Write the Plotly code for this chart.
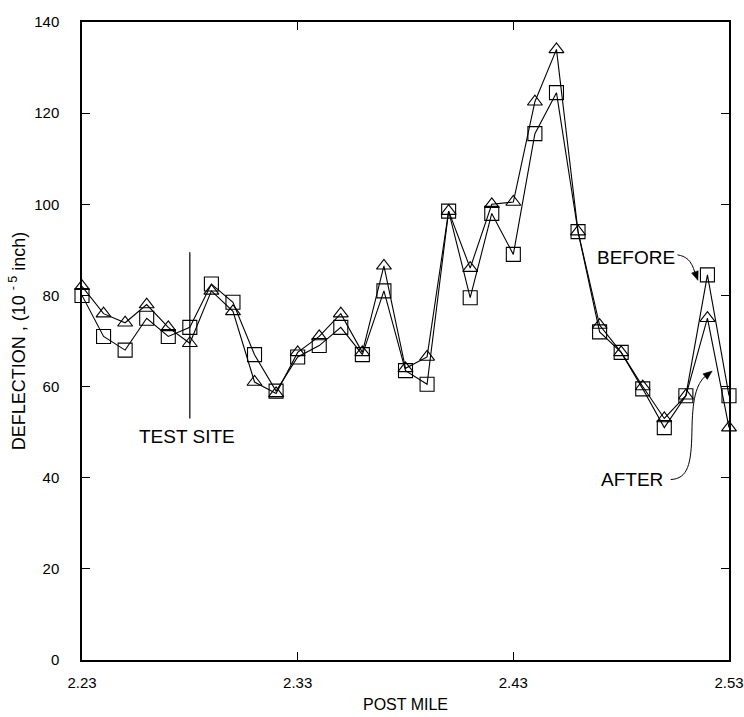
import math
import plotly.graph_objects as go

post_mile = [2.23, 2.24, 2.25, 2.26, 2.27, 2.28, 2.29, 2.30, 2.31, 2.32, 2.33,
             2.34, 2.35, 2.36, 2.37, 2.38, 2.39, 2.40, 2.41, 2.42, 2.43,
             2.44, 2.45, 2.46, 2.47, 2.48, 2.49, 2.50, 2.51, 2.52, 2.53]
before = [80, 71, 68, 75, 71, 73, 82.5, 78.5, 67, 59, 66.5,
          69, 73, 67, 81, 63.5, 60.5, 98.5, 79.5, 98, 89,
          115.5, 124.5, 94, 72, 67.5, 59.5, 51, 58, 84.5, 58]
after = [82, 76, 74, 78, 73, 69.5, 81, 76.5, 61, 58.5, 67.5,
         71, 76, 67.5, 86.5, 64, 66.5, 98.5, 86, 100, 100.5,
         122.5, 134, 94, 73.5, 67.5, 60, 53, 58, 75, 51]
x_ticks = [2.23, 2.33, 2.43, 2.53]
x_tick_text = ["2.23", "2.33", "2.43", "2.53"]
y_ticks = [0, 20, 40, 60, 80, 100, 120, 140]

FONT = "Liberation Sans, Arial, sans-serif"
X_RANGE = [2.23, 2.53]
Y_RANGE = [0, 140]
M_L, M_R, M_T, M_B = 82, 15, 22, 57
PLOT_W = 744 - M_L - M_R
PLOT_H = 717 - M_T - M_B
PX_X = PLOT_W / (X_RANGE[1] - X_RANGE[0])
PX_Y = PLOT_H / (Y_RANGE[1] - Y_RANGE[0])


def arrow_head(tx, ty, fx, fy, length=9, half=3.5):
    dx = (tx - fx) * PX_X
    dy = (ty - fy) * PX_Y
    n = math.hypot(dx, dy)
    ux, uy = dx / n, dy / n
    bx, by = -ux * length, -uy * length
    px, py = -uy * half, ux * half
    p1 = (tx + (bx + px) / PX_X, ty + (by + py) / PX_Y)
    p2 = (tx + (bx - px) / PX_X, ty + (by - py) / PX_Y)
    return f"M {tx},{ty} L {p1[0]},{p1[1]} L {p2[0]},{p2[1]} Z"


fig = go.Figure()
fig.add_trace(go.Scatter(
    x=post_mile, y=after, mode="lines+markers", name="AFTER",
    line=dict(color="black", width=1.1),
    marker=dict(symbol="triangle-up-open", size=13, color="black", line=dict(width=1.1)),
    cliponaxis=False, showlegend=False))
fig.add_trace(go.Scatter(
    x=post_mile, y=before, mode="lines+markers", name="BEFORE",
    line=dict(color="black", width=1.1),
    marker=dict(symbol="square-open", size=14, color="black", line=dict(width=1.1)),
    cliponaxis=False, showlegend=False))

# Test site marker line
fig.add_shape(type="line", x0=2.28, x1=2.28, y0=53, y1=89.5, xref="x", yref="y",
              line=dict(color="black", width=1.2))
fig.add_annotation(x=2.2787, y=49, text="TEST SITE", showarrow=False,
                   font=dict(family=FONT, size=19, color="black"), xref="x", yref="y")

# BEFORE label and curved arrow
fig.add_annotation(x=2.4868, y=88.4, text="BEFORE", showarrow=False,
                   font=dict(family=FONT, size=19, color="black"), xref="x", yref="y")
fig.add_shape(type="path", xref="x", yref="y",
              path="M 2.5061,88.9 C 2.5100,88.6 2.5125,87.8 2.5142,85.0",
              line=dict(color="black", width=1))
fig.add_shape(type="path", xref="x", yref="y",
              path=arrow_head(2.5156, 83.3, 2.5140, 85.4),
              fillcolor="black", line=dict(color="black", width=0.5))

# AFTER label and curved arrow
fig.add_annotation(x=2.4852, y=39.5, text="AFTER", showarrow=False,
                   font=dict(family=FONT, size=19, color="black"), xref="x", yref="y")
fig.add_shape(type="path", xref="x", yref="y",
              path="M 2.5030,39.6 C 2.5110,39.8 2.5125,43 2.5128,50 C 2.5130,57 2.5145,60.5 2.5195,62.5",
              line=dict(color="black", width=1))
fig.add_shape(type="path", xref="x", yref="y",
              path=arrow_head(2.5222, 63.4, 2.5195, 62.4),
              fillcolor="black", line=dict(color="black", width=0.5))

fig.update_xaxes(
    range=X_RANGE, tickvals=x_ticks, ticktext=x_tick_text,
    ticks="inside", ticklen=8, tickwidth=1, tickcolor="black",
    showline=True, linecolor="black", linewidth=1.5, mirror="ticks",
    showgrid=False, zeroline=False, ticklabelstandoff=8,
    ticklabeloverflow="allow",
    tickfont=dict(family=FONT, size=15, color="black"),
    title=dict(text="POST MILE", font=dict(family=FONT, size=16, color="black"), standoff=9),
)
fig.update_yaxes(
    range=Y_RANGE, tickvals=y_ticks,
    ticks="inside", ticklen=8, tickwidth=1, tickcolor="black",
    showline=True, linecolor="black", linewidth=1.5, mirror="ticks",
    showgrid=False, zeroline=False, ticklabelstandoff=18,
    ticklabeloverflow="allow",
    tickfont=dict(family=FONT, size=15, color="black"),
    title=dict(text="DEFLECTION , (10 <sup>- 5</sup> inch)",
               font=dict(family=FONT, size=18, color="black"), standoff=4),
)
fig.update_layout(
    width=744, height=717,
    margin=dict(l=M_L, r=M_R, t=M_T, b=M_B, autoexpand=False),
    plot_bgcolor="white", paper_bgcolor="white",
)
fig.write_html("out.html")
